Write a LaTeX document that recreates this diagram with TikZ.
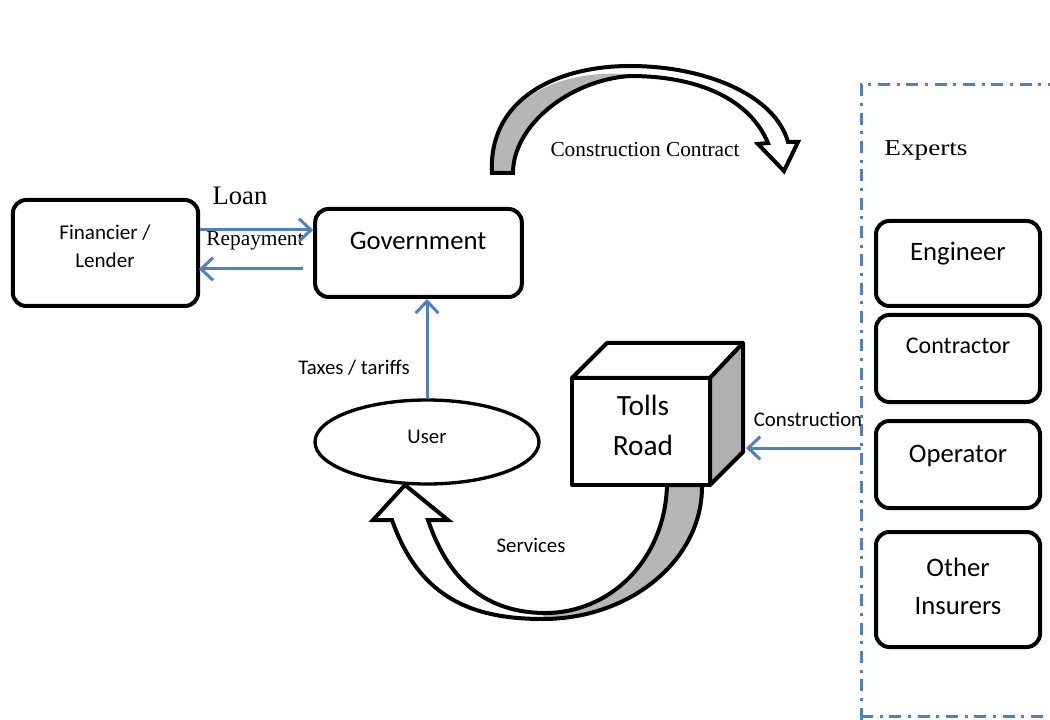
\documentclass[tikz,border=0pt]{standalone}
\usepackage{fontspec}
\setmainfont{Liberation Serif}
\newfontfamily\calibri{Carlito}
\usetikzlibrary{arrows.meta,shapes.geometric}
\definecolor{linkblue}{RGB}{79,129,189}
\definecolor{ribbongray}{RGB}{182,182,182}
\definecolor{sidegray}{RGB}{175,175,175}

% outlines of the two curved block arrows
\def\contractband{(492,173) .. controls (488,100) and (555,66) .. (630,66)
  .. controls (705,66) and (775,95) .. (788,142)
  -- (798,142) -- (784,171) -- (758,144) -- (768,143)
  .. controls (750,100) and (700,76) .. (630,76)
  .. controls (570,80) and (513,125) .. (513,173) -- cycle}
\def\serviceband{(392,520) .. controls (420,600) and (475,619) .. (543,619)
  .. controls (630,619) and (703,560) .. (702,485)
  -- (667,485)
  .. controls (665,560) and (610,614) .. (543,613)
  .. controls (490,612) and (450,585) .. (428,520)
  -- (448,520) -- (405,485) -- (373,520) -- cycle}

\begin{document}
\begin{tikzpicture}[x=0.75pt,y=-0.75pt,
  box/.style={draw=black, line width=3pt, rounded corners=10pt, inner sep=0pt},
  txt/.style={inner sep=0pt, align=center},
  flow/.style={draw=linkblue, line width=2.25pt, -{Straight Barb[length=9pt,width=17pt]}},
  expline/.style={draw=linkblue, line width=2.25pt, dash pattern=on 9pt off 5pt on 2.25pt off 5pt},
  band/.style={line width=3pt, line join=miter},
  face/.style={line width=3pt, line join=round}
]
\useasboundingbox (0,0) rectangle (1050,720);
\fill[white] (0,0) rectangle (1050,720);

% construction contract arrow
\fill[white] \contractband;
\fill[ribbongray] (492,173) .. controls (489,105) and (550,70) .. (625,74)
  -- (630,76) .. controls (570,80) and (513,125) .. (513,173) -- cycle;
\draw[band] \contractband;
\node[txt, font=\fontsize{16}{16}\selectfont] (cclbl) at (645,150) {Construction Contract};

% financier and government
\node[box, minimum width=139pt, minimum height=79.5pt] (fin) at (105.5,253) {};
\node[txt, font=\calibri\fontsize{15.8}{21}\selectfont] (finlbl) at (105,246) {Financier /\\Lender};
\node[box, minimum width=155pt, minimum height=66pt] (gov) at (418.5,253) {};
\node[txt, font=\calibri\fontsize{20}{20}\selectfont] (govlbl) at (418,241) {Government};

\node[txt, font=\fontsize{20}{20}\selectfont] (loanlbl) at (240,196) {Loan};
\node[txt, font=\fontsize{16}{16}\selectfont] (replbl) at (255,241) {Repayment};
\draw[flow] (fin.east |- 0,230) -- (gov.west |- 0,230);
\draw[flow] ([xshift=-8pt]gov.west |- 0,269) -- ([xshift=-1pt]fin.east |- 0,269);

% user
\node[ellipse, draw=black, line width=2.5pt, fill=white, minimum width=168pt, minimum height=63pt, inner sep=0pt] (user) at (427,442) {};
\node[txt, font=\calibri\fontsize{15.6}{15.6}\selectfont] (userlbl) at (427,437) {User};
\draw[flow] (user.north) -- (user.north |- gov.south);
\node[txt, font=\calibri\fontsize{15.6}{15.6}\selectfont] (taxlbl) at (354,368) {Taxes / tariffs};

% services arrow
\fill[white] \serviceband;
\fill[ribbongray] (543,619) .. controls (630,619) and (703,560) .. (702,485)
  -- (667,485) .. controls (665,560) and (610,614) .. (543,613) -- cycle;
\draw[band] \serviceband;
\node[txt, font=\calibri\fontsize{15.6}{15.6}\selectfont] (svlbl) at (531,545) {Services};

% tolls road block
\draw[face, fill=white] (572,378) -- (607,343) -- (743,343) -- (710,378) -- cycle;
\draw[face, fill=sidegray] (710,378) -- (743,343) -- (743,452) -- (710,485) -- cycle;
\node[draw=black, line width=3pt, line join=round, fill=white, minimum width=103.5pt, minimum height=80.25pt, inner sep=0pt] (road) at (641,431.5) {};
\node[txt, font=\calibri\fontsize{22}{30}\selectfont] (roadlbl) at (643,425) {Tolls\\Road};

% experts frame
\draw[expline] (1060,85) -- (861,85) -- (861,730);
\draw[expline] (861,716) -- (1060,716);
\node[txt, font=\fontsize{17}{17}\selectfont] (explbl) at (926,150) {\scalebox{1.2}[1]{Experts}};

\node[box, minimum width=123pt, minimum height=63.75pt] (eng) at (958,263.5) {};
\node[txt, font=\calibri\fontsize{20}{20}\selectfont] (englbl) at (958,254) {Engineer};
\node[box, minimum width=123pt, minimum height=65.25pt] (con) at (958,358.5) {};
\node[txt, font=\calibri\fontsize{18}{18}\selectfont] (conlbl) at (958,346) {Contractor};
\node[box, minimum width=123pt, minimum height=65.25pt] (ope) at (958,464.5) {};
\node[txt, font=\calibri\fontsize{20}{20}\selectfont] (opelbl) at (958,456) {Operator};
\node[box, minimum width=123pt, minimum height=86.25pt] (oth) at (958,589.5) {};
\node[txt, font=\calibri\fontsize{20}{28.5}\selectfont] (othlbl) at (958,586) {Other\\Insurers};

% construction supply line
\coordinate (expedge) at (861,448);
\coordinate (roadside) at (746,448);
\draw[flow] (expedge) -- (roadside);
\node[txt, font=\calibri\fontsize{15.6}{15.6}\selectfont] (conslbl) at (808,419) {Construction};
\end{tikzpicture}
\end{document}
